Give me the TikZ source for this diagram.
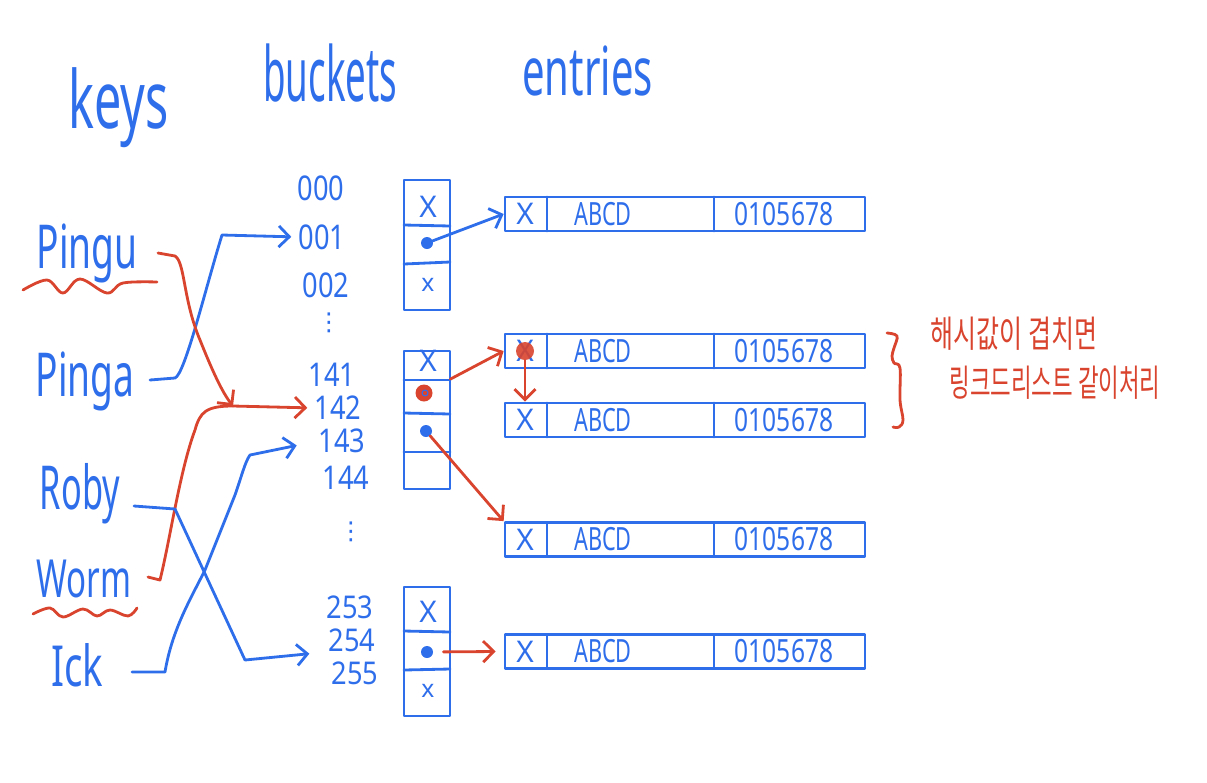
\documentclass[tikz,border=0pt]{standalone}
\usepackage{fontspec}
\usepackage{graphicx}
\setmainfont{Noto Sans}
\newfontfamily\krfont{Noto Sans CJK KR}
\newfontfamily\djfont{DejaVu Sans}
\usetikzlibrary{arrows.meta}
\definecolor{pblue}{HTML}{2F6EEB}
\definecolor{pred}{HTML}{D9442E}
\newcommand{\hw}[3]{\scalebox{#1}[#2]{#3}}
\begin{document}
\begin{tikzpicture}[x=0.02cm,y=-0.02cm, line cap=round, line join=round,
  ink/.style={line width=1.6pt},
  bl/.style={ink, draw=pblue},
  rd/.style={ink, draw=pred},
  arr/.style={-{Straight Barb[length=6pt,width=12pt,line width=1.6pt]}},
  head/.style={text=pblue, font=\fontsize{24}{28}\selectfont, inner sep=0pt, anchor=base west},
  key/.style={text=pblue, font=\fontsize{23}{26}\selectfont, inner sep=0pt, anchor=base},
  num/.style={text=pblue, font=\fontsize{15.5}{17}\selectfont, inner sep=0pt},
  vd/.style={text=pblue, font=\djfont\fontsize{14}{16}\selectfont, inner sep=0pt},
  cross/.style={text=pblue, font=\fontsize{17}{18}\selectfont, inner sep=0pt},
  bucketbox/.style={draw=pblue, line width=1.6pt, minimum width=0.92cm, inner sep=0pt},
  entrybox/.style={draw=pblue, line width=1.6pt, minimum width=7.2cm, minimum height=0.68cm, inner sep=0pt},
  cell/.style={text=pblue, inner sep=0pt},
  bdot/.style={circle, fill=pblue, inner sep=0pt, minimum size=0.24cm},
  kr/.style={text=pred, font=\krfont\fontsize{15}{17}\selectfont, inner sep=0pt}]
\useasboundingbox (0,0) rectangle (1207,782);

% headers
\node[head] (hkeys) at (68,128) {\hw{1.15}{1.9}{keys}};
\node[head] (hbuckets) at (263,101) {\hw{0.87}{1.8}{buckets}};
\node[head] (hentries) at (522,95) {\hw{0.95}{1.6}{entries}};

% keys
\node[key] (k1) at (87,268) {\hw{0.92}{1.5}{Pingu}};
\node[key] (k2) at (85,396) {\hw{0.92}{1.5}{Pinga}};
\node[key] (k3) at (80,509) {\hw{0.85}{1.5}{Roby}};
\node[key] (k4) at (84,597) {\hw{0.82}{1.3}{Worm}};
\node[key] (k5) at (77,686) {\hw{0.95}{1.4}{Ick}};

% wavy underlines
\draw[rd] plot[smooth, tension=0.6] coordinates {(23,290) (47,280) (63,293) (80,279) (107,293) (123,283) (157,282)};
\draw[rd] plot[smooth, tension=0.6] coordinates {(33,614) (50,608) (63,617) (83,609) (97,616) (110,610) (128,616) (137,608)};

% bucket numbers
\node[num] (n000) at (321,188) {\hw{1}{1.25}{000}};
\node[num] (n001) at (322,237) {\hw{1}{1.25}{001}};
\node[num] (n002) at (326,285) {\hw{1}{1.25}{002}};
\node[vd] (v1) at (329,323) {⋮};
\node[num] (n141) at (332,375) {\hw{1}{1.2}{141}};
\node[num] (n142) at (338,408) {\hw{1}{1.2}{142}};
\node[num] (n143) at (342,441) {\hw{1}{1.2}{143}};
\node[num] (n144) at (346,478) {\hw{1}{1.2}{144}};
\node[vd] (v2) at (351,532) {⋮};
\node[num] (n253) at (350,607) {\hw{1}{1.15}{253}};
\node[num] (n254) at (352,640) {\hw{1}{1.15}{254}};
\node[num] (n255) at (355,673) {\hw{1}{1.15}{255}};

% bucket boxes
\node[bucketbox, minimum height=2.6cm] (b1) at (427,245) {};
\draw[bl] (404,225) -- (450,226);
\draw[bl] (404,264) -- (450,262);
\node[cross] (x1) at (428,207) {X};
\node[bdot] (d1) at (427,243) {};
\node[cross, font=\fontsize{14}{16}\selectfont] (x2) at (428,285) {x};

\node[bucketbox, minimum height=2.76cm] (b2) at (427,420) {};
\draw[bl] (404,380) -- (450,380);
\draw[bl] (404,413) -- (450,414);
\draw[bl] (404,452) -- (450,452);
\node[cross] (x3) at (428,361) {X};
\node[circle, fill=pred, inner sep=0pt, minimum width=0.34cm, minimum height=0.28cm] (d2) at (424,393) {};
\node[circle, draw=pblue, line width=0.6pt, inner sep=0pt, minimum size=0.12cm] (d2i) at (425,393) {};
\node[bdot] (d3) at (426,431) {};

\node[bucketbox, minimum height=2.58cm] (b3) at (427,651.5) {};
\draw[bl] (404,631) -- (450,632);
\draw[bl] (404,670) -- (450,669);
\node[cross] (x4) at (428,612) {X};
\node[bdot] (d4) at (427,652) {};
\node[cross, font=\fontsize{14}{16}\selectfont] (x5) at (428,691) {x};

% entries
\foreach \n/\y in {1/214,2/351,3/420,4/539.5,5/651.5}{
  \node[entrybox] (e\n) at (685,\y) {};
  \draw[bl] (547,\y-17) -- (547,\y+17);
  \draw[bl] (714,\y-17) -- (714,\y+17);
  \node[cross] (ex\n) at (525,\y) {X};
  \node[cell, font=\fontsize{13}{15}\selectfont] (ea\n) at (603,\y) {\hw{0.95}{1.4}{ABCD}};
  \node[cell, font=\fontsize{14}{16}\selectfont] (ev\n) at (784,\y) {\hw{1}{1.3}{0105678}};
}
\node[circle, fill=pred, fill opacity=0.9, inner sep=0pt, minimum size=0.36cm] (r2) at (525,351) {};

% bucket to entries
\draw[bl, arr] (d1) -- (e1.west);
\draw[rd, arr, shorten <=0.42cm] (d2) -- (e2.west);
\draw[rd, arr] (r2) -- (r2 |- e3.north);
\draw[rd, arr] (d3) -- (e4.north west);
\draw[rd, arr, shorten <=0.2cm] (d4) -- ([xshift=-0.16cm]e5.west);

% keys to buckets
\coordinate (p1) at (158,253);
\coordinate (q1) at (150,380);
\coordinate (r1) at (134,506);
\coordinate (w1) at (148,577);
\coordinate (i1) at (132,672);
\coordinate (m) at (233,406);

\draw[bl, arr, shorten >=0.14cm] (q1) -- (175,378) .. controls (185,374) and (205,290) .. (222,235) -- (n001.west);
\draw[rd, arr] (p1) -- (175,256) .. controls (185,262) and (183,300) .. (200,340) .. controls (212,370) and (222,392) .. (m);
\draw[rd] (w1) -- (160,580) .. controls (170,540) and (180,470) .. (195,430) .. controls (200,412) and (206,406) .. (m);
\draw[rd, arr, shorten >=0.14cm] (m) -- (n142.west);
\draw[bl, arr, shorten >=0.38cm] (r1) -- (175,509) -- (245,660) -- (n254.south west);
\draw[bl, arr, shorten >=0.44cm] (i1) -- (165,672) .. controls (172,630) and (190,600) .. (205,570) -- (235,495) .. controls (242,475) and (245,462) .. (250,455) -- (n143.west);

% brace and note
\draw[rd] plot[smooth, tension=0.6] coordinates {(887,333) (897,336) (894,348) (892,356) (894,363) (900,368) (900,400) (903,420) (899,427) (893,427)};
\node[kr] (t1) at (1014,334) {\hw{0.95}{1.4}{해시값이 겹치면}};
\node[kr] (t2) at (1055,383) {\hw{0.85}{1.4}{링크드리스트 같이처리}};
\end{tikzpicture}
\end{document}
